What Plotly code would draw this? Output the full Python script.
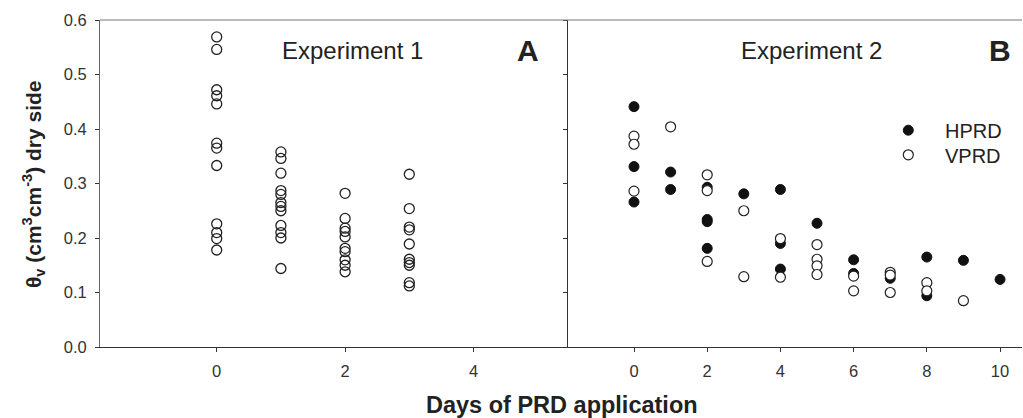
import plotly.graph_objects as go

# Experiment 1 (panel A): soil water content on the dry side per day
exp1_day0 = [0.569, 0.546, 0.472, 0.461, 0.446, 0.374, 0.365, 0.333, 0.226, 0.210, 0.199, 0.178]
exp1_day1 = [0.358, 0.346, 0.319, 0.287, 0.280, 0.265, 0.258, 0.250, 0.223, 0.210, 0.200, 0.144]
exp1_day2 = [0.282, 0.236, 0.218, 0.212, 0.202, 0.181, 0.175, 0.160, 0.150, 0.138]
exp1_day3 = [0.317, 0.254, 0.220, 0.215, 0.189, 0.161, 0.155, 0.150, 0.118, 0.112]

# Experiment 2 (panel B)
hprd_days = [0, 0, 0, 1, 1, 2, 2, 2, 2, 3, 4, 4, 4, 5, 6, 6, 7, 8, 8, 9, 10]
hprd_theta = [0.441, 0.331, 0.266, 0.321, 0.289, 0.293, 0.234, 0.230, 0.181, 0.281,
              0.289, 0.190, 0.143, 0.227, 0.160, 0.135, 0.126, 0.165, 0.094, 0.159, 0.124]
vprd_days = [0, 0, 0, 1, 2, 2, 2, 3, 3, 4, 4, 5, 5, 5, 5, 6, 6, 7, 7, 7, 8, 8, 9]
vprd_theta = [0.387, 0.372, 0.286, 0.404, 0.316, 0.287, 0.157, 0.250, 0.129, 0.199, 0.128,
              0.188, 0.161, 0.149, 0.133, 0.130, 0.103, 0.137, 0.132, 0.100, 0.118, 0.103, 0.085]

FONT = "Liberation Sans, Arial, sans-serif"

exp1_x, exp1_y = [], []
for d, vals in enumerate([exp1_day0, exp1_day1, exp1_day2, exp1_day3]):
    exp1_x += [d] * len(vals)
    exp1_y += vals

fig = go.Figure()
fig.add_trace(go.Scatter(x=exp1_x, y=exp1_y, mode='markers', showlegend=False,
                         marker=dict(symbol='circle-open', size=10, color='#222',
                                     line=dict(width=1.3, color='#222')),
                         xaxis='x', yaxis='y'))
fig.add_trace(go.Scatter(x=hprd_days, y=hprd_theta, mode='markers', name='\u00a0\u00a0\u00a0HPRD',
                         marker=dict(symbol='circle', size=10, color='#111',
                                     line=dict(width=1, color='#111')),
                         xaxis='x2', yaxis='y2', legend='legend'))
fig.add_trace(go.Scatter(x=vprd_days, y=vprd_theta, mode='markers', name='\u00a0\u00a0\u00a0VPRD',
                         marker=dict(symbol='circle', size=10, color='white',
                                     line=dict(width=1.2, color='#222')),
                         xaxis='x2', yaxis='y2', legend='legend2'))

split = 468 / 922
axis_common = dict(showgrid=False, zeroline=False, showline=True, linecolor='#333', linewidth=1,
                   ticks='outside', ticklen=4, tickcolor='#333', ticklabelstandoff=5,
                   tickfont=dict(family=FONT, size=16.5, color='#333'))
legend_common = dict(x=0.855, xanchor='left', yanchor='top', bgcolor='rgba(0,0,0,0)',
                     font=dict(family=FONT, size=20, color='#222'))


def ann(text, x, y, size, **kw):
    return dict(text=text, x=x, y=y, xref='paper', yref='paper', showarrow=False,
                xanchor='center', yanchor='middle', font=dict(family=FONT, size=size, color='#222'), **kw)


fig.update_layout(
    width=1023, height=418,
    margin=dict(l=100, r=1, t=20, b=71),
    plot_bgcolor='white', paper_bgcolor='white',
    font=dict(family=FONT, color='#222'),
    xaxis=dict(domain=[0, split], range=[-1.818, 5.472], tickvals=[0, 2, 4], anchor='y', **axis_common),
    xaxis2=dict(domain=[split, 1], range=[-1.803, 10.6], tickvals=[0, 2, 4, 6, 8, 10], anchor='y2', **axis_common),
    yaxis=dict(range=[0, 0.6], dtick=0.1, tickformat='.1f', anchor='x', **{**axis_common, 'linecolor': '#666'}),
    yaxis2=dict(range=[0, 0.6], dtick=0.1, anchor='x2', showticklabels=False, **axis_common),
    legend=dict(y=0.7226, **legend_common),
    legend2=dict(y=0.6474, **legend_common),
    shapes=[dict(type='line', xref='paper', yref='paper', x0=0, x1=1, y0=1, y1=1,
                 line=dict(color='#777', width=1))],
    annotations=[
        ann('Experiment 1', 0.2744, 0.908, 24),
        ann('<b>A</b>', 0.4642, 0.908, 30),
        ann('Experiment 2', 0.7722, 0.908, 24),
        ann('<b>B</b>', 0.976, 0.908, 30),
        ann('<b>Days of PRD application</b>', 0.5016, -0.177, 23.5),
        ann('<b>\u03b8<sub>v</sub> (cm<sup>3</sup>cm<sup>-3</sup>) dry side</b>', -0.0727, 0.498, 21,
            textangle=-90),
    ],
)

fig.write_html("out.html", config={'displayModeBar': False},
               post_script="document.body.style.margin='0';")
